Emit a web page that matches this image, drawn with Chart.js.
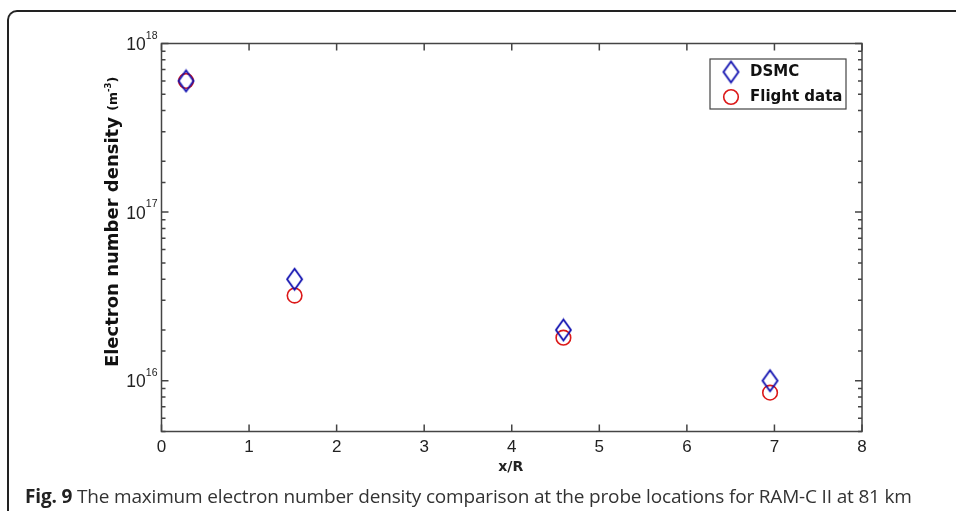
<!DOCTYPE html>
<html>
<head>
<meta charset="utf-8">
<script src="https://cdn.jsdelivr.net/npm/chart.js@4.4.1/dist/chart.umd.min.js"></script>
<style>
html, body { margin: 0; padding: 0; background: #fff; }
body { width: 956px; height: 511px; position: relative; overflow: hidden; }
#frame { position: absolute; left: 7px; top: 10px; width: 1000px; height: 600px;
  border-left: 2px solid #222; border-top: 2px solid #222; border-top-left-radius: 10px; }
#wrap { position: absolute; left: 0; top: 0; width: 956px; height: 511px; }
#caption { position: absolute; left: 25px; top: 486px; font-family: "Open Sans"; font-size: 19px;
  letter-spacing: -0.17px; line-height: 20px; color: #333; white-space: nowrap; }
#caption b { font-weight: 700; color: #222; }
</style>
</head>
<body>
<div id="frame"></div>
<div id="wrap"><canvas id="chart"></canvas></div>
<div id="caption"><b>Fig. 9</b> The maximum electron number density comparison at the probe locations for RAM-C II at 81 km</div>
<script>
// probe locations (x/R)
const probeX = [0.28, 1.52, 4.59, 6.95];
// electron number density, m^-3
const dsmcValues = [6.0e17, 4.0e16, 2.0e16, 1.0e16];
const flightValues = [6.0e17, 3.2e16, 1.8e16, 8.5e15];
const seriesNames = ['DSMC', 'Flight data'];
const xTicks = [0, 1, 2, 3, 4, 5, 6, 7, 8];
const yRange = [5e15, 1e18];

const BLUE = 'rgb(15,15,175)';
const RED = 'rgb(220,25,25)';
const AXIS = '#444';

// вытянутый ромб как картинка маркера
function makeDiamond(w, h, color) {
    const c = document.createElement('canvas');
    c.width = w + 4;
    c.height = h + 4;
    const g = c.getContext('2d');
    g.strokeStyle = color;
    g.lineWidth = 1.8;
    g.beginPath();
    g.moveTo(c.width / 2, 2);
    g.lineTo(c.width - 2, c.height / 2);
    g.lineTo(c.width / 2, c.height - 2);
    g.lineTo(2, c.height / 2);
    g.closePath();
    g.stroke();
    return c;
}
const diamond = makeDiamond(15, 21, BLUE);

function toPoints(xs, ys) {
    return xs.map((x, i) => ({ x: x, y: ys[i] }));
}

function isMajor(v) {
    const l = Math.log10(v);
    return Math.abs(l - Math.round(l)) < 1e-9;
}

// рамка осей, засечки внутрь, подписи со степенями
const axesPlugin = {
    id: 'axesPlugin',
    afterDraw(chart) {
        const ctx = chart.ctx;
        const a = chart.chartArea;
        const xs = chart.scales.x;
        const ys = chart.scales.y;
        ctx.save();
        ctx.strokeStyle = AXIS;
        ctx.lineWidth = 1.5;
        ctx.strokeRect(a.left, a.top, a.right - a.left, a.bottom - a.top);

        ctx.beginPath();
        xs.ticks.forEach(t => {
            const px = xs.getPixelForValue(t.value);
            ctx.moveTo(px, a.bottom);
            ctx.lineTo(px, a.bottom - 7);
            ctx.moveTo(px, a.top);
            ctx.lineTo(px, a.top + 7);
        });
        ys.ticks.forEach(t => {
            const py = ys.getPixelForValue(t.value);
            const len = isMajor(t.value) ? 7 : 4;
            ctx.moveTo(a.left, py);
            ctx.lineTo(a.left + len, py);
            ctx.moveTo(a.right, py);
            ctx.lineTo(a.right - len, py);
        });
        ctx.stroke();

        ctx.fillStyle = '#222';
        ctx.font = '17px "Liberation Sans", Arial, sans-serif';
        ctx.textAlign = 'center';
        ctx.textBaseline = 'top';
        xs.ticks.forEach(t => {
            ctx.fillText(String(t.value), xs.getPixelForValue(t.value), a.bottom + 7);
        });

        ctx.textBaseline = 'alphabetic';
        ys.ticks.filter(t => isMajor(t.value)).forEach(t => {
            const py = ys.getPixelForValue(t.value);
            const exp = String(Math.round(Math.log10(t.value)));
            ctx.font = '10.5px "Liberation Sans", Arial, sans-serif';
            const ew = ctx.measureText(exp).width;
            const ex = a.left - 4 - ew;
            ctx.textAlign = 'left';
            ctx.fillText(exp, ex, py - 5);
            ctx.font = '17.5px "Liberation Sans", Arial, sans-serif';
            ctx.textAlign = 'right';
            ctx.fillText('10', ex, py + 6.5);
        });

        // подпись оси x
        ctx.font = 'bold 14px "DejaVu Sans"';
        ctx.textAlign = 'center';
        ctx.fillText('x/R', (a.left + a.right) / 2 - 1, 471);

        // подпись оси y (повёрнутая)
        ctx.translate(118, 222);
        ctx.rotate(-Math.PI / 2);
        const main = 'Electron number density ';
        ctx.font = 'bold 18px "DejaVu Sans"';
        const mw = ctx.measureText(main).width;
        ctx.font = 'bold 12.5px "DejaVu Sans"';
        const pw = ctx.measureText('(m').width;
        const cw = ctx.measureText(')').width;
        ctx.font = 'bold 8.5px "DejaVu Sans"';
        const sw = ctx.measureText('-3').width;
        let x0 = -(mw + pw + sw + cw) / 2;
        ctx.fillStyle = '#111';
        ctx.textAlign = 'left';
        ctx.font = 'bold 18px "DejaVu Sans"';
        ctx.fillText(main, x0, 0);
        x0 += mw;
        ctx.font = 'bold 12.5px "DejaVu Sans"';
        ctx.fillText('(m', x0, -1);
        x0 += pw;
        ctx.font = 'bold 8.5px "DejaVu Sans"';
        ctx.fillText('-3', x0, -7);
        x0 += sw;
        ctx.font = 'bold 12.5px "DejaVu Sans"';
        ctx.fillText(')', x0, -1);
        ctx.restore();

        // легенда
        ctx.save();
        const bx = 710, by = 59, bw = 136, bh = 50;
        ctx.fillStyle = '#fff';
        ctx.fillRect(bx, by, bw, bh);
        ctx.strokeStyle = AXIS;
        ctx.lineWidth = 1.2;
        ctx.strokeRect(bx, by, bw, bh);
        ctx.drawImage(diamond, 731 - diamond.width / 2, 72 - diamond.height / 2);
        ctx.strokeStyle = RED;
        ctx.lineWidth = 1.6;
        ctx.beginPath();
        ctx.arc(731, 97, 7.3, 0, Math.PI * 2);
        ctx.stroke();
        ctx.fillStyle = '#111';
        ctx.font = 'bold 15px "DejaVu Sans"';
        ctx.textAlign = 'left';
        ctx.textBaseline = 'middle';
        ctx.fillText(seriesNames[0], 750, 72);
        ctx.fillText(seriesNames[1], 750, 97);
        ctx.restore();
    }
};

new Chart(document.getElementById('chart'), {
    type: 'scatter',
    data: {
        datasets: [
            {
                label: seriesNames[0],
                data: toPoints(probeX, dsmcValues),
                pointStyle: diamond,
                pointRadius: 10
            },
            {
                label: seriesNames[1],
                data: toPoints(probeX, flightValues),
                pointStyle: 'circle',
                pointRadius: 7.3,
                borderColor: RED,
                backgroundColor: 'rgba(0,0,0,0)',
                borderWidth: 1.6
            }
        ]
    },
    options: {
        responsive: true,
        maintainAspectRatio: false,
        animation: false,
        events: [],
        layout: { padding: { left: 161.5, right: 94, top: 43.5, bottom: 79.5 } },
        plugins: { legend: { display: false }, tooltip: { enabled: false } },
        scales: {
            x: {
                type: 'linear',
                min: xTicks[0],
                max: xTicks[xTicks.length - 1],
                afterBuildTicks: (scale) => { scale.ticks = xTicks.map(v => ({ value: v })); },
                grid: { display: false, drawTicks: false },
                border: { display: false },
                ticks: { display: false }
            },
            y: {
                type: 'logarithmic',
                min: yRange[0],
                max: yRange[1],
                grid: { display: false, drawTicks: false },
                border: { display: false },
                ticks: { display: false }
            }
        }
    },
    plugins: [axesPlugin]
});
</script>
</body>
</html>
